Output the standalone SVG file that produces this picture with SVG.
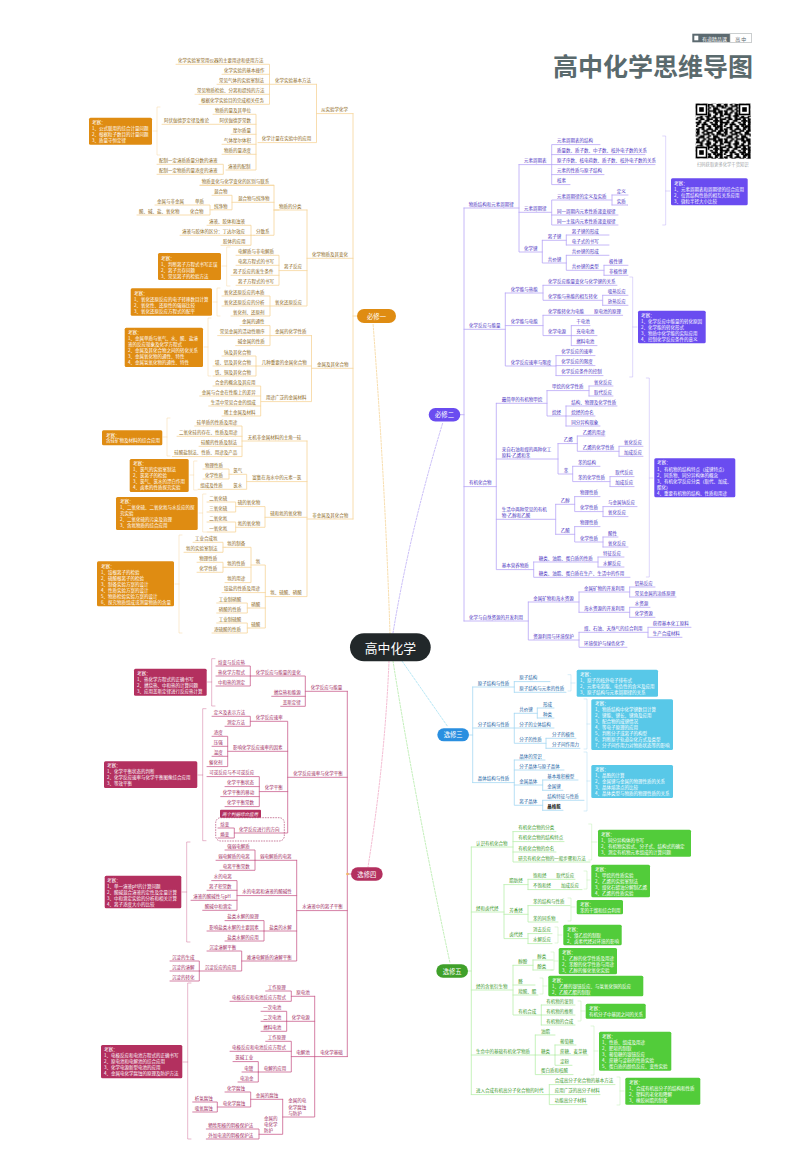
<svg xmlns="http://www.w3.org/2000/svg" width="800" height="1175" viewBox="0 0 800 1175">
<style>
text{font-family:"Noto Sans CJK SC","Noto Sans",sans-serif;font-size:4.5px;dominant-baseline:central}
path{fill:none;stroke-linejoin:round;stroke-linecap:round}
.c{stroke-width:.8}
.b{stroke-width:.6;opacity:.75}
.cy{stroke:#f6d49a}.cp{stroke:#c9608e}.cv{stroke:#b8a6f6}.cb{stroke:#a6d8f2}.cg{stroke:#b9efac}
.ty text{fill:#8c6718}.tp text{fill:#a0285e}.tv text{fill:#4b32bf}.tb text{fill:#1b64a4}.tg text{fill:#3b9a2a}
.box text{fill:#fff}
.by rect{fill:#df8c12}.bp rect{fill:#b3305f}.bv rect{fill:#6a4cf0}.bb rect{fill:#58c8e8}.bg rect{fill:#52cc3a}
.pill text{fill:#fff;font-size:6.3px;text-anchor:middle}
.d{stroke-width:.7;stroke-dasharray:2 1.5}
</style>
<defs>
<pattern id="qr" width="17" height="17" patternUnits="userSpaceOnUse" patternTransform="translate(695.7 103.7) scale(1.65)">
<path stroke="#000" stroke-width="1" stroke-linecap="butt" d="M0 .5h2m2 0h1m2 0h3m3 0h2M1 1.5h1m3 0h3m2 0h1m2 0h4M0 2.5h1m2 0h2m3 0h1m2 0h2m3 0h1M2 3.5h3m2 0h1m3 0h3M0 4.5h2m3 0h1m2 0h4m2 0h2M1 5.5h1m2 0h1m2 0h1m3 0h2m1 0h2M0 6.5h4m3 0h2m3 0h1m2 0h1M3 7.5h1m2 0h3m2 0h1m3 0h2M1 8.5h3m3 0h1m2 0h3m1 0h1M0 9.5h1m2 0h2m2 0h3m2 0h1m2 0h2M2 10.5h1m3 0h2m3 0h3m1 0h1M0 11.5h3m2 0h1m3 0h1m2 0h1m2 0h2M1 12.5h1m2 0h3m3 0h3m2 0h1M0 13.5h1m3 0h1m2 0h2m2 0h1m1 0h3M2 14.5h3m3 0h1m3 0h2m1 0h1M0 15.5h2m2 0h1m2 0h3m2 0h1m2 0h1M1 16.5h1m3 0h2m3 0h2m2 0h3"/>
</pattern>
</defs>
<rect width="800" height="1175" fill="#fff"/>

<g id="connectors">
<path class="d" stroke="#f3cd85" d="M390 634Q385 480 373 323"/>
<path class="d" stroke="#b1a0f4" d="M393 633Q410 530 443 422"/>
<path class="d" stroke="#9adcf0" d="M402 661L448 727"/>
<path class="d" stroke="#a6e79a" d="M393 661Q415 800 450 963"/>
<path class="d" stroke="#ee9dbd" d="M389 661Q385 760 368 867"/>

<g class="cy">
<path class="c" d="M353 113.6V519M353 316H357M316.5 113.6H353M269.5 84.3H316.5M316.5 84.3V142.6H258M176 64.3H269.5V104.3H199M222 74.3H269.5M217 84.3H269.5M195 94.3H269.5"/>
<path class="c" d="M213 114.3H256V170H226M162 124.3H256M231 134.3H256M222 144.3H256M222 154.3H256M157 164.3H223.3V174.3H157"/>
<path class="c" d="M307 258.3H353M307 210V306H222M279 210H274M274 185.3H200V185.3M200 185.3H274V235.3H254M232 202.3H274M274 210H307M212 195.3H232V209.8H212M155 205H210V215H137M210 209.8H212M207 225.3H251V245.3H221M180 235.3H251M251 235.3H254"/>
<path class="c" d="M236 255.3H279V285.3H236M236 265.3H279M231 275.3H279M279 270.6H307M222 296H270V316H231"/>
<path class="c" d="M311.5 368.3H353M311.5 335.6V401.6H261M271 335.6H311.5M240 325.6H270V345.6H235.7M217.7 335.6H271M256 366H311.5M222 356H256V376H213M213 366H256M213 386H260.7V416H222M199.7 396H260.7M208.7 406H260.7"/>
<path class="c" d="M307 519H353M307 441V596.6H265.3M242 441H307M194.7 426H242V456.6H172.3M177 436.3H242M199 446.3H242"/>
<path class="c" d="M246.7 481.6H307M231 474.3H246.7V489.3H198M203 469H229V479H203M229 474.3H231"/>
<path class="c" d="M265 517.3H307M235.7 506.6H265V527.3H235.7M207 502H235.7V512H207M207 522H235.7V532H207"/>
<path class="c" d="M251 565H265.3V628H249M222 592.6H265.3M249 608H265.3M225 547.3H251V582.6H225M225 567.3H251M193 542.3H223V552.3H184M197 562.3H223V572.3H197M223 547.3H225M223 567.3H225M216.7 603H247.3V613H216.7M247.3 608H249M216.7 623H247.3V633H212M247.3 628H249"/>
</g>
<g class="cy">
<path class="b" d="M160 107H157V155H160M157 131H153"/>
<path class="b" d="M230 247H226.7V286H230M226.7 266H222"/>
<path class="b" d="M220 288H217V316H220M217 302H213"/>
<path class="b" d="M211 318H208V376H211M208 347H204"/>
<path class="b" d="M170 418H167V456H170M167 437H163"/>
<path class="b" d="M197 461H193.7V490H197M193.7 475H190"/>
<path class="b" d="M206 494H202.7V532H206M202.7 513H199"/>
<path class="b" d="M182 535H179V633H182M179 584H175"/>
</g>

<g class="cp">
<path class="c" d="M347.3 691.3V1056.6M347.3 874H351M305.3 691.3H347.3M250.3 676H305.3V706.3H280.7M271.7 696.3H305.3M216 666H250.3V686H216M216 676H250.3"/>
<path class="c" d="M287.7 777.3H347.3M250.3 721.3H287.7V833H234.3M212 716.3H250.3V726.3H225M227.7 751.3H287.7M212 736.3H227.7V766.6H207M212 746.3H227.7M212 756.3H227.7M259.3 791.6H287.7M207 776.6H259.3V806.6H225M225 786.6H259.3M220.7 796.6H259.3M218 828H234.3V838H218"/>
<path class="c" d="M296.7 910.6H347.3M255 860.3H296.7M296.7 860.3V961H241.7M225 850H255V870.3H220M216 860.3H255M237 895.6H296.7M211.7 880.6H237V910.3H202.7M207 890.3H237M191 900.3H237M264 931H296.7M225 920.6H264V941H225M207 931H264M207 951H241.7V971H199.3M170 961H199.3V981H170M170 971H199.3"/>
<path class="c" d="M314.7 1056.6H347.3M314.7 996.3V1117H282.7M291.3 996.3H314.7M265.7 991H291.3V1001.3H230M286.7 1021.3H314.7M261 1011.3H286.7V1031.3H261M261 1021.3H286.7M291.3 1056.6H314.7M265.7 1041.3H291.3V1072H258.3M230 1051.3H291.3M233 1061.6H258.3V1082H238M242 1072H258.3"/>
<path class="c" d="M282.7 1099.3V1134.3H259M250.7 1099.3H282.7M225 1092H250.7V1107H217.3M192.7 1102H217.3V1112H192.7M206.3 1129H259V1139H206.3"/>
<path class="b" d="M215 658.7H211.7V706H215M211.7 682H207.5"/>
<path class="b" d="M206 708.7H202.7V840.7H206M202.7 775H198"/>
<path class="b" d="M190 842H186.7V942H190M186.7 892H182"/>
<path class="b" d="M191 983H187.7V1139H191M187.7 1062H183"/>
</g>
<rect x="215.7" y="817.7" width="68.6" height="23.3" rx="5" fill="none" stroke="#a62a5c" stroke-width=".6" stroke-dasharray="1.6 1"/>
<circle cx="347.5" cy="874" r="1.3" fill="#f4b860"/>

<g class="cv">
<path class="c" d="M464 208V621M460 414.7H464M464 208H519M519 164.6V252H542.3M519 164.6H655M600 144.6H551.7V184.6H570M645 154.6H551.7M604 174.6H551.7M519 212.3H551.7M612 200H551.7V225H618M551.7 215H618M612 195H628M612 205H628V205M612 195V205"/>
<path class="c" d="M542.3 240.3V263H566.3M542.3 240.3H566.3M566.3 235H609M566.3 245H609M566.3 235V245M566.3 255.3V270.3H604M566.3 255.3H609M604 265.3V275.3M604 265.3H628M604 275.3H628"/>
<path class="c" d="M464 329.3H505.3M505.3 293V366H556M505.3 293H543M543 285.3V300.3H602.7M543 285.3H617M602.7 295.3V305.3M602.7 295.3H628M602.7 305.3H628M505.3 325.6H543M543 315.3V335.6H571.3M543 315.3H622.7M571.3 325.6V345.6M571.3 325.6H590M571.3 335.6H597M571.3 345.6H597M556 355.6V375.6M556 355.6H595M556 365.6H595M556 375.6H603"/>
<path class="c" d="M464 486.6H496.3M496.3 403.3V569.6H533.7M496.3 403.3H547M547 390.6V416H566M547 390.6H589M589 386V396M589 386H613M589 396H613M566 406V426M566 406H617M566 416H595M566 426H600"/>
<path class="c" d="M496.3 459H558M558 443.6V474H572.7M558 443.6H577.3M577.3 436V451.3H619M577.3 436H605M619 446.3V456.3M619 446.3H643M619 456.3H643M572.7 466.3V481.6H610M572.7 466.3H600M610 476.6V486.6M610 476.6H634M610 486.6H634"/>
<path class="c" d="M496.3 519.3H555.7M555.7 504.3V534.3M555.7 504.3H574.7M574.7 496.6V511.6H603M574.7 496.6H600M603 506.6V516.6M603 506.6H637M603 516.6H628M555.7 534.3H574.7M574.7 526.6V542H603M574.7 526.6H600M603 537V547M603 537H618M603 547H628M533.7 562V577.3H630M533.7 562H598M598 557V567M598 557H624M598 567H624"/>
<path class="c" d="M464 621H528.3M528.3 602V640H579M528.3 602H579M579 592V612.3M579 592H629.7M629.7 587V597M629.7 587H655M629.7 597H676M579 612.3H629.7M629.7 607.3V617.3M629.7 607.3H650M629.7 617.3H655M579 632.3V647.3H627M579 632.3H648M648 627.3V637.3M648 627.3H691M648 637.3H682"/>
<path class="b" d="M662.7 136H665.7V225H662.7M665.7 191H670"/>
<path class="b" d="M629.7 277H632.7V377H629.7M632.7 327H637"/>
<path class="b" d="M646.3 378H649.3V577H646.3M649.3 478H653"/>
</g>

<g class="cb">
<path class="c" d="M469 735H472.7M472.7 687V782.6M472.7 687H514.3M514.3 681.6V692.3M514.3 681.6H550M514.3 692.3H566M472.7 728H554M514.3 713.3V743.3H546M514.3 713.3H537.3M537.3 708V718M537.3 708H554M537.3 718H554M546 738.3V748.3M546 738.3H576M546 748.3H580M472.7 782.6H514.3M514.3 760V805.3H542.7M514.3 760H545M514.3 770H564M514.3 785H542.7M542.7 780V790.3M542.7 780H578M542.7 790.3H563M542.7 800.3V810.3M542.7 800.3H584M542.7 810.3H563"/>
<path class="b" d="M568 674.7H571V691H568M571 683H575"/>
<path class="b" d="M584 699H587V749H584M587 724H590"/>
<path class="b" d="M584 752H587V811H584M587 781H590"/>
</g>

<g class="cg">
<path class="c" d="M468 971H471.3M471.3 847V1094.6M471.3 847H513M513 831.6V862H590M513 831.6H556M513 841.6H564M513 852H556"/>
<path class="c" d="M471.3 912H504M504 884.6V938.6H528M504 884.6H528M528 879.3V889.6M528 879.3H575M528 889.6H582M504 914.3H528M528 905.6V922H558M528 905.6H570M528 933.6V943.6M528 933.6H552M528 943.6H552"/>
<path class="c" d="M471.3 990H513M513 965.3V1015H541.3M513 965.3H533M533 960V970M533 960H553M533 970H553M513 985H535M513 995H538M541.3 1005V1025M541.3 1005H575M541.3 1015H575M541.3 1025H575"/>
<path class="c" d="M471.3 1055H535.3M535.3 1035V1074.6H573M535.3 1035H555M535.3 1055H555M555 1045V1065.3H572M555 1045H576M555 1055H588"/>
<path class="c" d="M471.3 1094.6H549.3M549.3 1084.6V1104.6H587M549.3 1084.6H615M549.3 1094.6H600"/>
<path class="b" d="M588.7 824H591.7V860H588.7M591.7 842H597"/>
<path class="b" d="M584 871H587V889H584M587 880H590"/>
<path class="b" d="M568 898H571V921H568M571 907H575"/>
<path class="b" d="M555 927H558V943H555M558 935H562"/>
<path class="b" d="M551 952H554V970H551M554 961H558"/>
<path class="b" d="M540 978H543V994H540M543 986H547"/>
<path class="b" d="M578 1001H581V1021H578M581 1011H585"/>
<path class="b" d="M591 1026H594V1075H591M594 1051H598"/>
<path class="b" d="M617 1077H620V1105H617M620 1091H624"/>
</g>
</g>

<g id="header">
<rect x="692.3" y="33.7" width="37.7" height="8.6" fill="#5c6a70"/>
<rect x="694.3" y="35.7" width="4" height="4.6" fill="#fff"/>
<rect x="730" y="33.7" width="21.7" height="8.6" fill="#fff" stroke="#a8aeb0" stroke-width=".6"/>
<text x="702" y="38" style="font-size:5px;fill:#fff">有道精品课</text>
<text x="740.8" y="38" style="font-size:5px;fill:#5c6a70;text-anchor:middle">高 中</text>
<text x="553" y="65" style="font-size:25px;font-weight:700;fill:#5a6a6d">高中化学思维导图</text>
<rect x="695.7" y="103.7" width="55" height="55" fill="url(#qr)"/>
<g fill="#fff"><rect x="695.7" y="103.7" width="12" height="12"/><rect x="738.7" y="103.7" width="12" height="12"/><rect x="695.7" y="146.7" width="12" height="12"/></g>
<g fill="none" stroke="#000" stroke-width="1.6"><rect x="696.5" y="104.5" width="10" height="10"/><rect x="739.5" y="104.5" width="10" height="10"/><rect x="696.5" y="147.5" width="10" height="10"/></g>
<g fill="#000"><rect x="699.2" y="107.2" width="4.6" height="4.6"/><rect x="742.2" y="107.2" width="4.6" height="4.6"/><rect x="699.2" y="150.2" width="4.6" height="4.6"/></g>
<text x="697" y="164" style="font-size:4.3px;fill:#a0a4a6">扫码获取更多化学干货知识</text>
</g>

<g id="root"><rect x="350" y="633.3" width="80.7" height="28" rx="14" fill="#22282a"/><text x="390.4" y="647.3" style="font-size:12.8px;fill:#fff;text-anchor:middle">高中化学</text></g>
<g id="pill1" class="pill"><rect x="357" y="309" width="39" height="14" rx="7" fill="#df8c12"/><text x="376.5" y="316">必修一</text></g>
<g id="pill2" class="pill"><rect x="428.7" y="408" width="31.6" height="13.4" rx="6.7" fill="#6a4cf0"/><text x="444.5" y="414.7">必修二</text></g>
<g id="pill3" class="pill"><rect x="437.3" y="728.3" width="31.7" height="13" rx="6.5" fill="#2a8fe0"/><text x="453.2" y="734.8">选修三</text></g>
<g id="pill4" class="pill"><rect x="351" y="867.3" width="31.7" height="13.4" rx="6.7" fill="#b3305f"/><text x="366.8" y="874">选修四</text></g>
<g id="pill5" class="pill"><rect x="436.3" y="964.3" width="31.7" height="13.4" rx="6.7" fill="#3fa02a"/><text x="452.2" y="971">选修五</text></g>

<g id="nodes-bx1" class="box by">
<g id="by1"><rect x="89" y="117.7" width="63" height="27" rx="1.5"/><text x="92" y="121.7">考察：</text><text x="92" y="127.7">1、公式联用的综合计量问题</text><text x="92" y="133.7">2、根据粒子数目的计量问题</text><text x="92" y="139.7">3、质量守恒定律</text></g>
<g id="by2"><rect x="158" y="253" width="63" height="27" rx="1.5"/><text x="161" y="257.7">考察：</text><text x="161" y="264">1、判断离子方程式书写正误</text><text x="161" y="270">2、离子共存问题</text><text x="161" y="276">3、常见离子的检验方法</text></g>
<g id="by3"><rect x="130.7" y="288.3" width="81.3" height="27.4" rx="1.5"/><text x="134" y="293">考察：</text><text x="134" y="299">1、氧化还原反应的电子转移数目计算</text><text x="134" y="305.3">2、氧化性、还原性的强弱比较</text><text x="134" y="311.3">3、氧化还原反应方程式的配平</text></g>
<g id="by4"><rect x="124.7" y="327.7" width="78.3" height="39.3" rx="1.5"/><text x="128" y="332">考察：</text><text x="128" y="338">1、金属单质与氧气、水、酸、盐溶</text><text x="128" y="344">液的反应现象及化学方程式</text><text x="128" y="350">2、金属及其化合物之间的转化关系</text><text x="128" y="356">3、金属氧化物的通性、特性</text><text x="128" y="362">4、金属氢氧化物的通性、特性</text></g>
<g id="by5"><rect x="102" y="430.3" width="60.3" height="15" rx="1.5"/><text x="106" y="434.7">考察：</text><text x="106" y="440.3">含硅矿物及材料的综合应用</text></g>
<g id="by6"><rect x="129.7" y="459" width="59" height="33" rx="1.5"/><text x="133" y="463.3">考察：</text><text x="133" y="469.3">1、氯气的实验室制法</text><text x="133" y="475.3">2、氯离子的检验</text><text x="133" y="481.3">3、氯气、氯水的漂白作用</text><text x="133" y="487.3">4、卤素的性质探究实验</text></g>
<g id="by7"><rect x="116" y="497" width="81.7" height="33" rx="1.5"/><text x="120" y="501">考察：</text><text x="120" y="507">1、二氧化硫、二氧化氮与水反应的探</text><text x="120" y="513">究实验</text><text x="120" y="519">2、二氧化硫的污染及治理</text><text x="120" y="525">3、含氮物质的综合应用</text></g>
<g id="by8"><rect x="97" y="561.3" width="77" height="45" rx="1.5"/><text x="101" y="565.7">考察：</text><text x="101" y="571.7">1、铵根离子的检验</text><text x="101" y="577.7">2、硫酸根离子的检验</text><text x="101" y="583.7">3、制备实验方案的设计</text><text x="101" y="589.7">4、性质实验方案的设计</text><text x="101" y="595.7">5、物质检验实验方案的设计</text><text x="101" y="601.7">6、探究物质组成或测量物质的含量</text></g>
</g>

<g id="nodes-y" class="ty">
<g id="y1"><text x="178" y="60">化学实验室常用仪器的主要用途和使用方法</text></g>
<g id="y2"><text x="224" y="70">化学实验的基本操作</text></g>
<g id="y3"><text x="219" y="80">常见气体的实验室制法</text></g>
<g id="y4"><text x="197" y="90">常见物质检验、分离和提纯的方法</text></g>
<g id="y5"><text x="201" y="100">根据化学实验目的完成相关任务</text></g>
<g id="y6"><text x="275" y="80">化学实验基本方法</text></g>
<g id="y7"><text x="215" y="110">物质的量及其单位</text></g>
<g id="y8"><text x="219.5" y="120">阿伏伽德罗常数</text></g>
<g id="y9"><text x="164" y="120">阿伏伽德罗定律及推论</text></g>
<g id="y10"><text x="233" y="130">摩尔质量</text></g>
<g id="y11"><text x="224" y="140">气体摩尔体积</text></g>
<g id="y12"><text x="224" y="150">物质的量浓度</text></g>
<g id="y13"><text x="228" y="165.7">溶液的配制</text></g>
<g id="y14"><text x="159" y="160">配制一定溶质质量分数的溶液</text></g>
<g id="y15"><text x="159" y="170">配制一定物质的量浓度的溶液</text></g>
<g id="y16"><text x="261.7" y="138.3">化学计量在实验中的应用</text></g>
<g id="y17"><text x="321" y="109.3">从实验学化学</text></g>
<g id="y18"><text x="201.7" y="181">物质变化与化学变化的区别与联系</text></g>
<g id="y19"><text x="214" y="191">混合物</text></g>
<g id="y20"><text x="238" y="198">混合物与纯净物</text></g>
<g id="y21"><text x="214" y="205.5">纯净物</text></g>
<g id="y22"><text x="195" y="200.7">单质</text></g>
<g id="y23"><text x="157" y="200.7">金属与非金属</text></g>
<g id="y24"><text x="190" y="210.7">化合物</text></g>
<g id="y25"><text x="139" y="210.7">酸、碱、盐、氧化物</text></g>
<g id="y26"><text x="279" y="205.7">物质的分类</text></g>
<g id="y27"><text x="209" y="221">溶液、胶体和浊液</text></g>
<g id="y28"><text x="182" y="231">溶液与胶体的区分：丁达尔效应</text></g>
<g id="y29"><text x="256" y="231">分散系</text></g>
<g id="y30"><text x="223" y="241">胶体的应用</text></g>
<g id="y31"><text x="312" y="254">化学物质及其变化</text></g>
<g id="y32"><text x="238" y="251">电解质与非电解质</text></g>
<g id="y33"><text x="238" y="261">电离方程式的书写</text></g>
<g id="y34"><text x="233" y="271">离子反应的发生条件</text></g>
<g id="y35"><text x="238" y="281">离子方程式的书写</text></g>
<g id="y36"><text x="284" y="266.3">离子反应</text></g>
<g id="y37"><text x="224" y="291.7">氧化还原反应的本质</text></g>
<g id="y38"><text x="224" y="301.7">氧化还原反应的分析</text></g>
<g id="y39"><text x="233" y="311.7">氧化剂、还原剂</text></g>
<g id="y40"><text x="275" y="301.7">氧化还原反应</text></g>
<g id="y41"><text x="242" y="321.3">金属的通性</text></g>
<g id="y42"><text x="219.7" y="331.3">常见金属的活动性顺序</text></g>
<g id="y43"><text x="237.7" y="341.3">碱金属的性质</text></g>
<g id="y44"><text x="275" y="331.3">金属的化学性质</text></g>
<g id="y45"><text x="224" y="351.7">钠及其化合物</text></g>
<g id="y46"><text x="215" y="361.7">镁、铝及其化合物</text></g>
<g id="y47"><text x="215" y="371.7">铁、铜及其化合物</text></g>
<g id="y48"><text x="261.7" y="361.7">几种重要的金属化合物</text></g>
<g id="y49"><text x="215" y="381.7">合金的概念及其应用</text></g>
<g id="y50"><text x="201.7" y="391.7">金属与合金在性能上的差异</text></g>
<g id="y51"><text x="210.7" y="401.7">生活中常见合金的组成</text></g>
<g id="y52"><text x="224" y="411.7">稀土金属及材料</text></g>
<g id="y53"><text x="266" y="397.3">用途广泛的金属材料</text></g>
<g id="y54"><text x="317" y="364">金属及其化合物</text></g>
<g id="y55"><text x="196.7" y="421.7">硅单质的性质及用途</text></g>
<g id="y56"><text x="179" y="432">二氧化硅的存在、性质及用途</text></g>
<g id="y57"><text x="201" y="442">硅酸的性质及制法</text></g>
<g id="y58"><text x="174.3" y="452.3">硅酸盐制法、性质、用途及产品</text></g>
<g id="y59"><text x="247.7" y="436.7">无机非金属材料的主角—硅</text></g>
<g id="y60"><text x="205" y="464.7">物理性质</text></g>
<g id="y61"><text x="205" y="474.7">化学性质</text></g>
<g id="y62"><text x="233.3" y="470">氯气</text></g>
<g id="y63"><text x="200.3" y="485">组成及性质</text></g>
<g id="y64"><text x="233.3" y="485">氯水</text></g>
<g id="y65"><text x="252.3" y="477.3">富集在海水中的元素—氯</text></g>
<g id="y66"><text x="209.3" y="497.7">二氧化硫</text></g>
<g id="y67"><text x="209.3" y="507.7">三氧化硫</text></g>
<g id="y68"><text x="237.7" y="502.3">硫的氧化物</text></g>
<g id="y69"><text x="209.3" y="517.7">二氧化氮</text></g>
<g id="y70"><text x="209.3" y="527.7">一氧化氮</text></g>
<g id="y71"><text x="237.7" y="523">氮的氧化物</text></g>
<g id="y72"><text x="270.3" y="513">硫和氮的氧化物</text></g>
<g id="y73"><text x="195" y="538">工业合成氨</text></g>
<g id="y74"><text x="186" y="548">氨的实验室制法</text></g>
<g id="y75"><text x="227.3" y="543">氨的制备</text></g>
<g id="y76"><text x="199.3" y="558">物理性质</text></g>
<g id="y77"><text x="199.3" y="568">化学性质</text></g>
<g id="y78"><text x="227.3" y="563">氨的性质</text></g>
<g id="y79"><text x="227.3" y="578.3">氨的用途</text></g>
<g id="y80"><text x="255.7" y="560.7">氨</text></g>
<g id="y81"><text x="224" y="588.3">铵盐的性质及用途</text></g>
<g id="y82"><text x="218.7" y="598.7">工业制硝酸</text></g>
<g id="y83"><text x="218.7" y="608.7">硝酸的性质</text></g>
<g id="y84"><text x="251.3" y="603.7">硝酸</text></g>
<g id="y85"><text x="218.7" y="618.7">工业制硫酸</text></g>
<g id="y86"><text x="214" y="628.7">浓硫酸的性质</text></g>
<g id="y87"><text x="251.3" y="623.7">硫酸</text></g>
<g id="y88"><text x="270.3" y="592.3">氨、硫酸、硝酸</text></g>
<g id="y89"><text x="312.3" y="514.7">非金属及其化合物</text></g>
</g>

<g id="nodes-bx4" class="box bp">
<g id="bp1"><rect x="134" y="668.7" width="72.7" height="27" rx="1.5"/><text x="137" y="673.3">考察：</text><text x="137" y="679.3">1、热化学方程式的正确书写</text><text x="137" y="685.3">2、燃烧热、中和热的计算问题</text><text x="137" y="691.3">3、应用盖斯定律进行反应热计算</text></g>
<g id="bp2"><rect x="104" y="761.3" width="93.3" height="26.7" rx="1.5"/><text x="107" y="765.3">考察：</text><text x="107" y="771.3">1、化学平衡状态的判断</text><text x="107" y="777.3">2、化学反应速率与化学平衡图像综合应用</text><text x="107" y="783.3">3、等效平衡</text></g>
<g id="bp3"><rect x="104.7" y="875.7" width="76.6" height="32.6" rx="1.5"/><text x="107" y="879.7">考察：</text><text x="107" y="885.7">1、单一溶液pH的计算问题</text><text x="107" y="891.7">2、酸碱混合溶液的定性及定量计算</text><text x="107" y="897.7">3、中和滴定实验的分析和相关计算</text><text x="107" y="903.7">4、离子浓度大小的比较</text></g>
<g id="bp4"><rect x="101" y="1045" width="81.3" height="33.3" rx="1.5"/><text x="104" y="1049.3">考察：</text><text x="104" y="1055.3">1、电极反应和电池方程式的正确书写</text><text x="104" y="1061.3">2、原电池和电解池的综合应用</text><text x="104" y="1067.3">3、化学电源新型电池的应用</text><text x="104" y="1073.3">4、金属电化学腐蚀的原理及防护方法</text></g>
<g id="bp5"><rect x="220" y="809.7" width="41" height="8" rx="1"/><text x="222" y="813.7" style="font-style:italic">两个判据综合应用</text></g>
</g>

<g id="nodes-p" class="tp">
<g id="p1"><text x="218" y="661.7">焓变与反应热</text></g>
<g id="p2"><text x="218" y="671.7">热化学方程式</text></g>
<g id="p3"><text x="218" y="681.7">中和热的测定</text></g>
<g id="p4"><text x="255.7" y="671.7">化学反应与能量的变化</text></g>
<g id="p5"><text x="273.7" y="692">燃烧热和能源</text></g>
<g id="p6"><text x="282.7" y="702">盖斯定律</text></g>
<g id="p7"><text x="310.7" y="687">化学反应与能量</text></g>
<g id="p8"><text x="213.7" y="712">定义及表示方法</text></g>
<g id="p9"><text x="227" y="722">测定方法</text></g>
<g id="p10"><text x="255.7" y="717">化学反应速率</text></g>
<g id="p11"><text x="213.7" y="732">浓度</text></g>
<g id="p12"><text x="213.7" y="742">压强</text></g>
<g id="p13"><text x="213.7" y="752">温度</text></g>
<g id="p14"><text x="209" y="762.3">催化剂</text></g>
<g id="p15"><text x="233" y="747">影响化学反应速率的因素</text></g>
<g id="p16"><text x="209.3" y="772.3">可逆反应与不可逆反应</text></g>
<g id="p17"><text x="227" y="782.3">化学平衡状态</text></g>
<g id="p18"><text x="222.7" y="792.3">化学平衡的移动</text></g>
<g id="p19"><text x="227" y="802.3">化学平衡常数</text></g>
<g id="p20"><text x="264.7" y="787.3">化学平衡</text></g>
<g id="p21"><text x="220.3" y="823.7">焓变</text></g>
<g id="p22"><text x="220.3" y="833.7">熵变</text></g>
<g id="p23"><text x="239" y="828.7">化学反应进行的方向</text></g>
<g id="p24"><text x="293.3" y="773">化学反应速率与化学平衡</text></g>
<g id="p25"><text x="227.3" y="845.7">强弱电解质</text></g>
<g id="p26"><text x="218.3" y="856">弱电解质的电离</text></g>
<g id="p27"><text x="222.7" y="866">电离平衡常数</text></g>
<g id="p28"><text x="260" y="856">弱电解质的电离</text></g>
<g id="p29"><text x="213.7" y="876.3">水的电离</text></g>
<g id="p30"><text x="209" y="886">离子积常数</text></g>
<g id="p31"><text x="193.3" y="896">溶液的酸碱性与pH</text></g>
<g id="p32"><text x="204.7" y="906">酸碱中和滴定</text></g>
<g id="p33"><text x="242.3" y="891.3">水的电离和溶液的酸碱性</text></g>
<g id="p34"><text x="227.3" y="916.3">盐类水解的原理</text></g>
<g id="p35"><text x="209.3" y="926.7">影响盐类水解的主要因素</text></g>
<g id="p36"><text x="227.3" y="936.7">盐类水解的应用</text></g>
<g id="p37"><text x="269.3" y="926.7">盐类的水解</text></g>
<g id="p38"><text x="209.3" y="946.7">沉淀溶解平衡</text></g>
<g id="p39"><text x="204.7" y="966.7">沉淀反应的应用</text></g>
<g id="p40"><text x="172" y="956.7">沉淀的生成</text></g>
<g id="p41"><text x="172" y="966.7">沉淀的溶解</text></g>
<g id="p42"><text x="172" y="976.7">沉淀的转化</text></g>
<g id="p43"><text x="246.7" y="956.7">难溶电解质的溶解平衡</text></g>
<g id="p44"><text x="302.3" y="906.3">水溶液中的离子平衡</text></g>
<g id="p45"><text x="267.7" y="986.7">工作原理</text></g>
<g id="p46"><text x="232" y="997">电极反应和电池反应方程式</text></g>
<g id="p47"><text x="296.3" y="992">原电池</text></g>
<g id="p48"><text x="263.3" y="1007">一次电池</text></g>
<g id="p49"><text x="263.3" y="1017">二次电池</text></g>
<g id="p50"><text x="263.3" y="1027">燃料电池</text></g>
<g id="p51"><text x="291.7" y="1017">化学电源</text></g>
<g id="p52"><text x="267.7" y="1037">工作原理</text></g>
<g id="p53"><text x="232" y="1047">电极反应和电池反应方程式</text></g>
<g id="p54"><text x="235.3" y="1057.3">氯碱工业</text></g>
<g id="p55"><text x="244.3" y="1067.7">电镀</text></g>
<g id="p56"><text x="240" y="1077.7">电冶金</text></g>
<g id="p57"><text x="263.7" y="1067.7">电解的应用</text></g>
<g id="p58"><text x="296.3" y="1052.3">电解池</text></g>
<g id="p59"><text x="227" y="1087.7">化学腐蚀</text></g>
<g id="p60"><text x="194.7" y="1097.7">析氢腐蚀</text></g>
<g id="p61"><text x="194.7" y="1107.7">吸氧腐蚀</text></g>
<g id="p62"><text x="222.7" y="1102.7">电化学腐蚀</text></g>
<g id="p63"><text x="255.7" y="1095">金属的腐蚀</text></g>
<g id="p64"><text x="208.3" y="1124.7">牺牲阳极的阴极保护法</text></g>
<g id="p65"><text x="208.3" y="1134.7">外加电流的阴极保护法</text></g>
<g id="p66"><text x="264" y="1117.7">金属的</text><text x="264" y="1124">电化学</text><text x="264" y="1129.7">防护</text></g>
<g id="p67"><text x="288.3" y="1100.3">金属的电</text><text x="288.3" y="1106.7">化学腐蚀</text><text x="288.3" y="1112.7">与防护</text></g>
<g id="p68"><text x="320.3" y="1052.3">电化学基础</text></g>
</g>

<g id="nodes-bx2" class="box bv">
<g id="bv1"><rect x="671" y="178.3" width="76.7" height="27" rx="1.5"/><text x="674" y="182.7">考察：</text><text x="674" y="188.7">1、元素周期表和周期律的综合应用</text><text x="674" y="194.7">2、位置结构性质的相互关系应用</text><text x="674" y="200.7">3、微粒半径大小比较</text></g>
<g id="bv2"><rect x="638" y="310.7" width="67.7" height="32.6" rx="1.5"/><text x="641" y="314.7">考察：</text><text x="641" y="321">1、化学反应中能量的转化原因</text><text x="641" y="327">2、化学能的转化形式</text><text x="641" y="333">3、物质中化学能的实际应用</text><text x="641" y="339">4、控制化学反应条件的意义</text></g>
<g id="bv3"><rect x="654.3" y="458.3" width="81" height="39" rx="1.5"/><text x="657" y="462.3">考察：</text><text x="657" y="468.7">1、有机物的结构特点（成键特点）</text><text x="657" y="474.7">2、同系物、同分异构体的概念</text><text x="657" y="480.7">3、有机化学反应分类（取代、加成、</text><text x="657" y="486.7">酯化）</text><text x="657" y="492.7">4、重要有机物的结构、性质和用途</text></g>
</g>

<g id="nodes-v" class="tv">
<g id="v1"><text x="557" y="140.3">元素周期表的结构</text></g>
<g id="v2"><text x="557" y="150.3">质量数、质子数、中子数、核外电子数的关系</text></g>
<g id="v3"><text x="557" y="160.3">原子序数、核电荷数、质子数、核外电子数的关系</text></g>
<g id="v4"><text x="557" y="170.3">元素的性质与原子结构</text></g>
<g id="v5"><text x="557" y="180.3">核素</text></g>
<g id="v6"><text x="524" y="160.3">元素周期表</text></g>
<g id="v7"><text x="557" y="195.7">元素周期律的定义及实质</text></g>
<g id="v8"><text x="616.7" y="190.7">定义</text></g>
<g id="v9"><text x="616.7" y="200.7">实质</text></g>
<g id="v10"><text x="557" y="210.7">同一周期内元素性质递变规律</text></g>
<g id="v11"><text x="557" y="220.7">同一主族内元素性质递变规律</text></g>
<g id="v12"><text x="524" y="208">元素周期律</text></g>
<g id="v13"><text x="524" y="247.7">化学键</text></g>
<g id="v14"><text x="547.7" y="236">离子键</text></g>
<g id="v15"><text x="547.7" y="258.7">共价键</text></g>
<g id="v16"><text x="571.7" y="230.7">离子键的形成</text></g>
<g id="v17"><text x="571.7" y="240.7">电子式的书写</text></g>
<g id="v18"><text x="571.7" y="251">共价键的形成</text></g>
<g id="v19"><text x="571.7" y="266">共价键的类型</text></g>
<g id="v20"><text x="609" y="261">极性键</text></g>
<g id="v21"><text x="609" y="271">非极性键</text></g>
<g id="v22"><text x="468.7" y="203.7">物质结构和元素周期律</text></g>
<g id="v23"><text x="548" y="281">化学反应能量变化与化学键的关系</text></g>
<g id="v24"><text x="548" y="296">化学能与热能的相互转化</text></g>
<g id="v25"><text x="607.7" y="291">吸热反应</text></g>
<g id="v26"><text x="607.7" y="301">放热反应</text></g>
<g id="v27"><text x="510.7" y="288.7">化学能与热能</text></g>
<g id="v28"><text x="548" y="311">化学能转化为电能</text></g>
<g id="v29"><text x="594" y="311">原电池的原理</text></g>
<g id="v30"><text x="548" y="331.3">化学电源</text></g>
<g id="v31"><text x="576.3" y="321.3">干电池</text></g>
<g id="v32"><text x="576.3" y="331.3">充电电池</text></g>
<g id="v33"><text x="576.3" y="341.3">燃料电池</text></g>
<g id="v34"><text x="510.7" y="321.3">化学能与电能</text></g>
<g id="v35"><text x="561.3" y="351.3">化学反应的速率</text></g>
<g id="v36"><text x="561.3" y="361.3">化学反应的限度</text></g>
<g id="v37"><text x="561.3" y="371.3">化学反应条件的控制</text></g>
<g id="v38"><text x="510.7" y="361.7">化学反应速率与限度</text></g>
<g id="v39"><text x="469" y="325">化学反应与能量</text></g>
<g id="v40"><text x="501.7" y="399">最简单的有机物甲烷</text></g>
<g id="v41"><text x="552" y="386.3">甲烷的化学性质</text></g>
<g id="v42"><text x="594" y="381.7">氧化反应</text></g>
<g id="v43"><text x="594" y="391.7">取代反应</text></g>
<g id="v44"><text x="552" y="411.7">烷烃</text></g>
<g id="v45"><text x="571.3" y="401.7">结构、物理及化学性质</text></g>
<g id="v46"><text x="571.3" y="411.7">烷烃的命名</text></g>
<g id="v47"><text x="571.3" y="421.7">同分异构现象</text></g>
<g id="v48"><text x="501.7" y="449">来自石油和煤的两种化工</text><text x="501.7" y="454.7">原料-乙烯和苯</text></g>
<g id="v49"><text x="563.7" y="439.3">乙烯</text></g>
<g id="v50"><text x="582.7" y="431.7">乙烯的用途</text></g>
<g id="v51"><text x="582.7" y="447">乙烯的化学性质</text></g>
<g id="v52"><text x="624" y="442">氧化反应</text></g>
<g id="v53"><text x="624" y="452">加成反应</text></g>
<g id="v54"><text x="563.7" y="469.7">苯</text></g>
<g id="v55"><text x="578" y="462">苯的结构</text></g>
<g id="v56"><text x="578" y="477.3">苯的化学性质</text></g>
<g id="v57"><text x="615.3" y="472.3">取代反应</text></g>
<g id="v58"><text x="615.3" y="482.3">加成反应</text></g>
<g id="v59"><text x="469" y="482.3">有机化合物</text></g>
<g id="v60"><text x="501.7" y="509">生活中两种常见的有机</text><text x="501.7" y="515">物-乙醇和乙酸</text></g>
<g id="v61"><text x="560.7" y="500">乙醇</text></g>
<g id="v62"><text x="580" y="492.3">物理性质</text></g>
<g id="v63"><text x="580" y="507.3">化学性质</text></g>
<g id="v64"><text x="608" y="502.3">与金属钠反应</text></g>
<g id="v65"><text x="608" y="512.3">氧化反应</text></g>
<g id="v66"><text x="560.7" y="530">乙酸</text></g>
<g id="v67"><text x="580" y="522.3">物理性质</text></g>
<g id="v68"><text x="580" y="537.7">化学性质</text></g>
<g id="v69"><text x="608" y="532.7">酸性</text></g>
<g id="v70"><text x="608" y="542.7">氧化反应</text></g>
<g id="v71"><text x="501.7" y="565.3">基本营养物质</text></g>
<g id="v72"><text x="538.7" y="557.7">糖类、油脂、蛋白质的性质</text></g>
<g id="v73"><text x="603" y="552.7">特征反应</text></g>
<g id="v74"><text x="603" y="562.7">水解反应</text></g>
<g id="v75"><text x="538.7" y="573">糖类、油脂、蛋白质在生产、生活中的作用</text></g>
<g id="v76"><text x="469" y="616.7">化学与自然资源的开发利用</text></g>
<g id="v77"><text x="533.3" y="597.7">金属矿物和海水资源</text></g>
<g id="v78"><text x="584" y="587.7">金属矿物的开发利用</text></g>
<g id="v79"><text x="634.7" y="582.7">铝热反应</text></g>
<g id="v80"><text x="634.7" y="592.7">常见金属的冶炼原理</text></g>
<g id="v81"><text x="584" y="608">海水资源的开发利用</text></g>
<g id="v82"><text x="634.7" y="603">水资源</text></g>
<g id="v83"><text x="634.7" y="613">化学资源</text></g>
<g id="v84"><text x="533.3" y="635.7">资源利用与环境保护</text></g>
<g id="v85"><text x="584" y="628">煤、石油、天然气的综合利用</text></g>
<g id="v86"><text x="652.7" y="623">获得基本化工原料</text></g>
<g id="v87"><text x="652.7" y="633">生产合成材料</text></g>
<g id="v88"><text x="584" y="643">环境保护与绿色化学</text></g>
</g>

<g id="nodes-bx3" class="box bb">
<g id="bb1"><rect x="576.7" y="669.7" width="81.3" height="27" rx="1.5"/><text x="580" y="674">考察：</text><text x="580" y="680">1、原子的核外电子排布式</text><text x="580" y="686">2、元素电离能、电负性的含义及应用</text><text x="580" y="692">3、原子结构与元素周期律的关系</text></g>
<g id="bb2"><rect x="591.3" y="699.3" width="81.7" height="50.7" rx="1.5"/><text x="595" y="703.3">考察：</text><text x="595" y="709.3">1、物质结构中化学键数目计算</text><text x="595" y="715.3">2、键能、键长、键角及应用</text><text x="595" y="721.3">3、配合物的成键情况</text><text x="595" y="727.3">4、等电子原理的应用</text><text x="595" y="733.3">5、判断分子或离子的构型</text><text x="595" y="739.3">6、判断原子轨道杂化方式及类型</text><text x="595" y="745.3">7、分子间作用力对物质状态等的影响</text></g>
<g id="bb3"><rect x="591.3" y="765" width="81.7" height="33" rx="1.5"/><text x="595" y="769">考察：</text><text x="595" y="775">1、晶胞的计算</text><text x="595" y="781">2、金属键与金属的物理性质的关系</text><text x="595" y="787">3、晶体熔沸点的比较</text><text x="595" y="793">4、晶体类型与物质的物理性质的关系</text></g>
</g>

<g id="nodes-b" class="tb">
<g id="b1"><text x="477.7" y="682.7">原子结构与性质</text></g>
<g id="b2"><text x="519.3" y="677.3">原子结构</text></g>
<g id="b3"><text x="519.3" y="688">原子结构与元素的性质</text></g>
<g id="b4"><text x="477.7" y="723.7">分子结构与性质</text></g>
<g id="b5"><text x="519.3" y="709">共价键</text></g>
<g id="b6"><text x="543" y="703.7">形成</text></g>
<g id="b7"><text x="543" y="713.7">种类</text></g>
<g id="b8"><text x="519.3" y="723.7">分子的立体结构</text></g>
<g id="b9"><text x="519.3" y="739">分子的性质</text></g>
<g id="b10"><text x="552" y="734">分子的极性</text></g>
<g id="b11"><text x="552" y="744">分子间作用力</text></g>
<g id="b12"><text x="477.7" y="778.3">晶体结构与性质</text></g>
<g id="b13"><text x="519.3" y="755.7">晶体的常识</text></g>
<g id="b14"><text x="519.3" y="765.7">分子晶体与原子晶体</text></g>
<g id="b15"><text x="519.3" y="780.7">金属晶体</text></g>
<g id="b16"><text x="547.3" y="775.7">基本堆积模型</text></g>
<g id="b17"><text x="547.3" y="786">金属键</text></g>
<g id="b18"><text x="519.3" y="801">离子晶体</text></g>
<g id="b19"><text x="547.3" y="796">结构特征与性质</text></g>
<g id="b20"><text x="547.3" y="806" style="fill:#222;font-weight:700">晶格能</text></g>
</g>

<g id="nodes-bx5" class="box bg">
<g id="bg1"><rect x="598" y="829.7" width="93" height="27" rx="1.5"/><text x="601" y="834">考察：</text><text x="601" y="840">1、同分异构体的书写</text><text x="601" y="846">2、有机物实验式、分子式、结构式的确定</text><text x="601" y="852">3、测定有机物元素组成的计算问题</text></g>
<g id="bg2"><rect x="591.3" y="864.7" width="58.7" height="32.6" rx="1.5"/><text x="595" y="868.7">考察：</text><text x="595" y="874.7">1、甲烷的性质实验</text><text x="595" y="880.7">2、乙烯的实验室制法</text><text x="595" y="886.7">3、煤化石蜡油分解制乙烯</text><text x="595" y="892.7">4、乙烯的性质实验</text></g>
<g id="bg3"><rect x="576.7" y="900" width="46.3" height="14.3" rx="1.5"/><text x="580" y="904">考察：</text><text x="580" y="910">苯的干馏和综合利用</text></g>
<g id="bg4"><rect x="563.3" y="924.7" width="58.4" height="20.6" rx="1.5"/><text x="567" y="928.7">考察：</text><text x="567" y="934.7">1、溴乙烷的制取</text><text x="567" y="940.7">2、卤素代烃对环境的影响</text></g>
<g id="bg5"><rect x="558.7" y="948" width="58.3" height="26.3" rx="1.5"/><text x="562" y="952">考察：</text><text x="562" y="958">1、乙醇的化学性质及用途</text><text x="562" y="964">2、苯酚的化学性质与用途</text><text x="562" y="970">3、乙醇的催化氧化实验</text></g>
<g id="bg6"><rect x="548.3" y="975.7" width="95" height="20.6" rx="1.5"/><text x="552" y="980">考察：</text><text x="552" y="986">1、乙醛的银镜反应、与氢氧化铜的反应</text><text x="552" y="992">2、乙酸乙酯的制取</text></g>
<g id="bg7"><rect x="585.7" y="1003.7" width="60" height="15" rx="1.5"/><text x="589" y="1008">考察：</text><text x="589" y="1014">有机分子中基团之间的关系</text></g>
<g id="bg8"><rect x="599" y="1031.7" width="72.3" height="39" rx="1.5"/><text x="602" y="1035.7">考察：</text><text x="602" y="1042">1、性质、组成及用途</text><text x="602" y="1048">2、肥皂的制取</text><text x="602" y="1054">3、葡萄糖的银镜反应</text><text x="602" y="1060">4、蔗糖与淀粉的性质实验</text><text x="602" y="1066">5、蛋白质的颜色反应、变性实验</text></g>
<g id="bg9"><rect x="625.3" y="1077.7" width="75" height="27" rx="1.5"/><text x="629" y="1082">考察：</text><text x="629" y="1088">1、合成有机高分子的结构和性质</text><text x="629" y="1094">2、塑料的老化和降解</text><text x="629" y="1100">3、橡胶树脂的制备</text></g>
</g>

<g id="nodes-g" class="tg">
<g id="g1"><text x="476" y="842.7">认识有机化合物</text></g>
<g id="g2"><text x="518.3" y="827.3">有机化合物的分类</text></g>
<g id="g3"><text x="518.3" y="837.3">有机化合物的结构特点</text></g>
<g id="g4"><text x="518.3" y="847.7">有机化合物的命名</text></g>
<g id="g5"><text x="518.3" y="857.7">研究有机化合物的一般步骤和方法</text></g>
<g id="g6"><text x="476" y="907.7">烃和卤代烃</text></g>
<g id="g7"><text x="509.3" y="880.3">脂肪烃</text></g>
<g id="g8"><text x="533" y="875">饱和烃</text></g>
<g id="g9"><text x="533" y="885.3">不饱和烃</text></g>
<g id="g10"><text x="556.3" y="875">取代反应</text></g>
<g id="g11"><text x="561" y="885.3">加成反应</text></g>
<g id="g12"><text x="509.3" y="910">芳香烃</text></g>
<g id="g13"><text x="533" y="901.3">苯的结构与性质</text></g>
<g id="g14"><text x="533" y="917.7">苯的同系物</text></g>
<g id="g15"><text x="509.3" y="934.3">卤代烃</text></g>
<g id="g16"><text x="533" y="929.3">消去反应</text></g>
<g id="g17"><text x="533" y="939.3">水解反应</text></g>
<g id="g18"><text x="476" y="985.7">烃的含氧衍生物</text></g>
<g id="g19"><text x="518.3" y="961">醇酚</text></g>
<g id="g20"><text x="537.3" y="955.7">醇类</text></g>
<g id="g21"><text x="537.3" y="965.7">酚类</text></g>
<g id="g22"><text x="518.3" y="980.7">醛</text></g>
<g id="g23"><text x="518.3" y="990.7">羧酸、酯</text></g>
<g id="g24"><text x="518.3" y="1010.7">有机合成</text></g>
<g id="g25"><text x="546.3" y="1000.7">有机物的鉴别</text></g>
<g id="g26"><text x="546.3" y="1010.7">有机物的推断</text></g>
<g id="g27"><text x="546.3" y="1020.7">有机物的合成</text></g>
<g id="g28"><text x="476" y="1050.7">生命中的基础有机化学物质</text></g>
<g id="g29"><text x="541" y="1030.7">油脂</text></g>
<g id="g30"><text x="541" y="1050.7">糖类</text></g>
<g id="g31"><text x="560" y="1040.7">葡萄糖</text></g>
<g id="g32"><text x="560" y="1050.7">蔗糖、麦芽糖</text></g>
<g id="g33"><text x="560" y="1061">淀粉</text></g>
<g id="g34"><text x="541" y="1070.3">蛋白质和核酸</text></g>
<g id="g35"><text x="476" y="1090.3">进入合成有机高分子化合物的时代</text></g>
<g id="g36"><text x="554.7" y="1080.3">合成高分子化合物的基本方法</text></g>
<g id="g37"><text x="554.7" y="1090.3">应用广泛的高分子材料</text></g>
<g id="g38"><text x="554.7" y="1100.3">功能高分子材料</text></g>
</g>
</svg>
